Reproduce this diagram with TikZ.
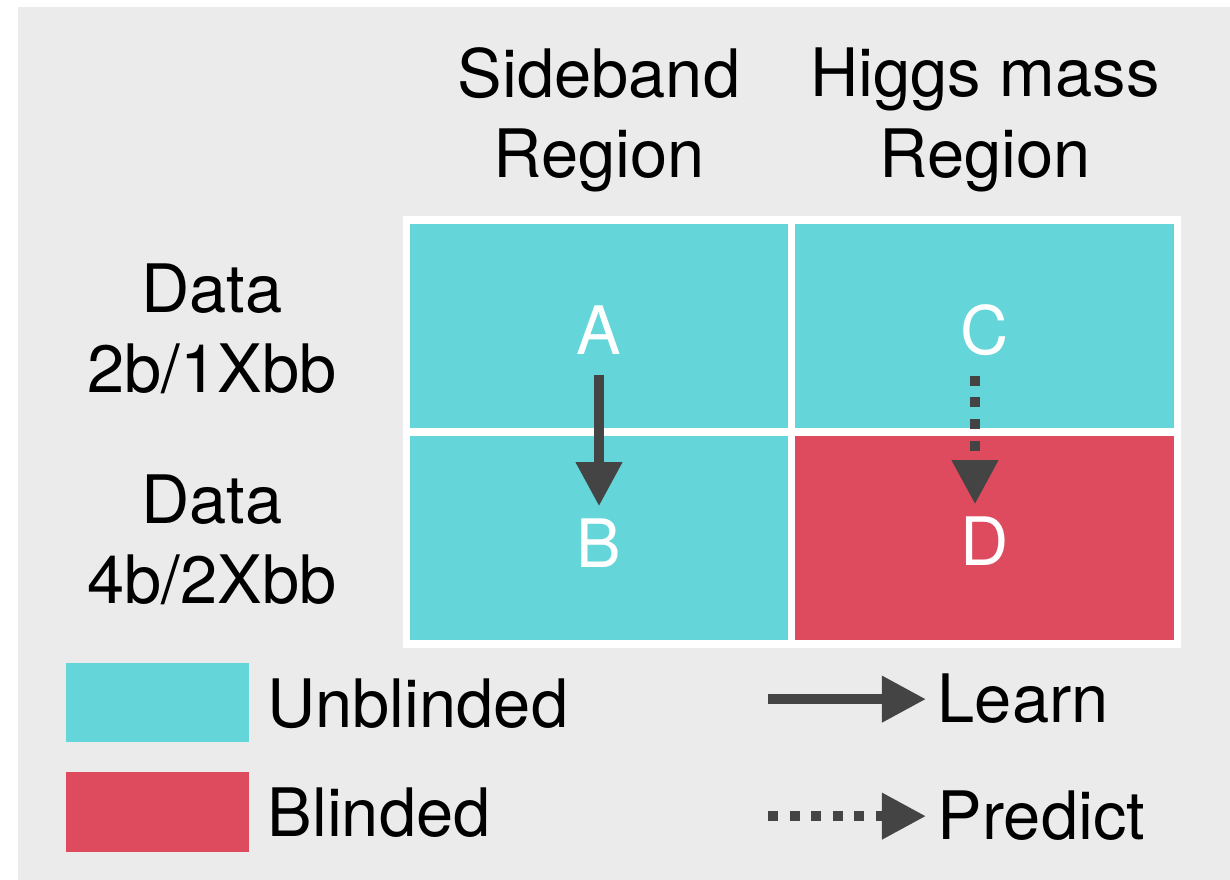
\documentclass[tikz,border=0pt]{standalone}
\usepackage{fontspec}
\setmainfont{TeX Gyre Heros}
\usetikzlibrary{arrows.meta}
\definecolor{unblindcol}{HTML}{64D5D9}
\definecolor{blindcol}{HTML}{DE4B5E}
\definecolor{panelcol}{HTML}{EBEBEB}
\definecolor{arrowcol}{HTML}{444444}
\tikzset{>/.tip={Triangle[length=4.4mm,width=4.4mm]},
  lbl/.style={font=\fontsize{19pt}{22.8pt}\selectfont, align=center},
  keylbl/.style={lbl, anchor=base west, inner sep=0pt},
  cell/.style={minimum width=3.78cm, minimum height=2.04cm, inner sep=0pt},
  learnarrow/.style={->, draw=arrowcol, line width=1mm},
  predictarrow/.style={learnarrow, dash pattern=on 1mm off 1.15mm}}

\begin{document}
\begin{tikzpicture}[x=0.01cm, y=-0.01cm]
\useasboundingbox (0,0) rectangle (1230,880);
\fill[panelcol] (18,7) rectangle (1230,880);
\fill[white] (403,216) rectangle (1181,648);
% regions
\foreach \n/\x/\y/\c in {ra/599/326/unblindcol, rc/984.5/326/unblindcol,
                         rb/599/538/unblindcol, rd/984.5/538/blindcol}
{
  \node[cell, fill=\c] (\n) at (\x,\y) {};
}
\foreach \n/\t/\x/\y in {a/A/599/330, b/B/599/543, c/C/985/330, d/D/985/541}
{
  \node[lbl, text=white] (\n) at (\x,\y) {\t};
}
\node[lbl] (side)  at (599,120) {Sideband\\Region};
\node[lbl] (higgs) at (985,120) {Higgs mass\\Region};
\node[lbl] (twob)  at (212,329) {Data\\2b/1Xbb};
\node[lbl] (fourb) at (212,540) {Data\\4b/2Xbb};
\draw[learnarrow, shorten <=0.08cm] (a) -- (b);
\draw[predictarrow, shorten <=0.08cm] ([xshift=-0.1cm]c.south) -- ([xshift=-0.1cm]d.north);
% legend
\node[cell, minimum width=1.83cm, minimum height=0.79cm, fill=unblindcol] (keyu) at (157.5,702.5) {};
\node[cell, minimum width=1.83cm, minimum height=0.8cm, fill=blindcol] (keyb) at (157.5,812) {};
\node[keylbl] (unbl) at (267,728) {Unblinded};
\node[keylbl] (bli)  at (267,837) {Blinded};
\node[keylbl] (lrn)  at (937,723) {Learn};
\node[keylbl] (prd)  at (937,840) {Predict};
\coordinate (keyx) at (768,0);
\draw[learnarrow, shorten >=0.11cm] (keyx |- lrn.west) -- (lrn.west);
\draw[predictarrow, shorten >=0.11cm] (keyx |- prd.west) -- (prd.west);
\end{tikzpicture}
\end{document}
